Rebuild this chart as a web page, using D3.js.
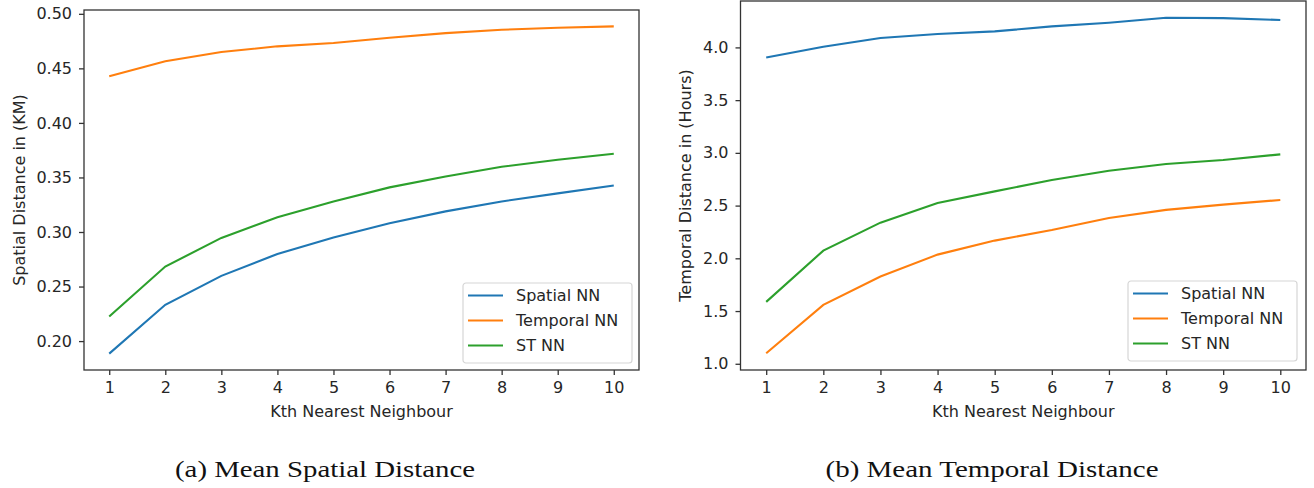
<!DOCTYPE html>
<html>
<head>
<meta charset="utf-8">
<script src="https://cdn.jsdelivr.net/npm/d3@7"></script>
<style>
  body { margin: 0; background: #fff; }
  text { font-family: "DejaVu Sans", sans-serif; fill: #262626; }
</style>
</head>
<body>
<svg width="1314" height="488"></svg>
<script>
// k values on the x axis
const kValues = [1, 2, 3, 4, 5, 6, 7, 8, 9, 10]
const seriesNames = ['Spatial NN', 'Temporal NN', 'ST NN']
const seriesColors = ['#1f77b4', '#ff7f0e', '#2ca02c']

// (a) mean spatial distance, KM
const spatialBySpatialNN = [0.1885, 0.2333, 0.2598, 0.2799, 0.2950, 0.3080, 0.3189, 0.3280, 0.3354, 0.3427]
const spatialByTemporalNN = [0.4427, 0.4565, 0.4650, 0.4702, 0.4732, 0.4780, 0.4823, 0.4854, 0.4872, 0.4885]
const spatialBySTNN = [0.2226, 0.2683, 0.2946, 0.3135, 0.3280, 0.3409, 0.3509, 0.3598, 0.3662, 0.3717]
const spatialTicks = [0.20, 0.25, 0.30, 0.35, 0.40, 0.45, 0.50]

// (b) mean temporal distance, hours
const temporalBySpatialNN = [3.905, 4.007, 4.089, 4.127, 4.152, 4.199, 4.234, 4.281, 4.278, 4.260]
const temporalByTemporalNN = [1.100, 1.558, 1.827, 2.035, 2.168, 2.269, 2.383, 2.459, 2.509, 2.553]
const temporalBySTNN = [1.587, 2.073, 2.338, 2.525, 2.635, 2.743, 2.831, 2.895, 2.933, 2.986]
const temporalTicks = [1.0, 1.5, 2.0, 2.5, 3.0, 3.5, 4.0]

const svg = d3.select('svg')

function drawPanel(p) {
  const g = svg.append('g')
  const allVals = p.series.flat()
  const [lo, hi] = d3.extent(allVals)
  const pad = (hi - lo) * 0.05

  // matplotlib style 5% margins
  const x = d3.scaleLinear().domain([0.55, 10.45]).range([p.left, p.right])
  const y = d3.scaleLinear().domain([lo - pad, hi + pad]).range([p.bottom, p.top])

  const xAxis = g.append('g')
    .attr('transform', `translate(0,${p.bottom})`)
    .call(d3.axisBottom(x).tickValues(kValues).tickSize(5).tickPadding(7).tickFormat(d3.format('d')))
  const yAxis = g.append('g')
    .attr('transform', `translate(${p.left},0)`)
    .call(d3.axisLeft(y).tickValues(p.ticks).tickSize(5).tickPadding(7).tickFormat(d3.format(p.fmt)))

  ;[xAxis, yAxis].forEach(a => {
    a.select('.domain').remove()
    a.selectAll('line').attr('stroke', '#333').attr('stroke-width', 1.3)
    a.selectAll('text').style('font-size', '16px').attr('fill', '#262626')
  })

  const line = d3.line().x((d, i) => x(kValues[i])).y(d => y(d))
  g.selectAll('path.series')
    .data(p.series)
    .enter()
    .append('path')
    .attr('class', 'series')
    .attr('d', line)
    .attr('fill', 'none')
    .attr('stroke', (d, i) => seriesColors[i])
    .attr('stroke-width', 2.1)

  // frame
  g.append('rect')
    .attr('x', p.left).attr('y', p.top)
    .attr('width', p.right - p.left).attr('height', p.bottom - p.top)
    .attr('fill', 'none').attr('stroke', '#333').attr('stroke-width', 1.3)

  g.append('text')
    .attr('x', (p.left + p.right) / 2).attr('y', 417)
    .attr('text-anchor', 'middle')
    .style('font-size', '16px')
    .text('Kth Nearest Neighbour')

  g.append('text')
    .attr('transform', `translate(${p.ylabelX},${(p.top + p.bottom) / 2}) rotate(-90)`)
    .attr('text-anchor', 'middle')
    .attr('dy', '0.35em')
    .style('font-size', '16px')
    .text(p.ylabel)

  // legend
  const lg = g.append('g').attr('transform', `translate(${p.legendX},${p.legendY})`)
  lg.append('rect')
    .attr('width', 169).attr('height', 80).attr('rx', 3)
    .attr('fill', '#fff').attr('fill-opacity', 0.8)
    .attr('stroke', '#d6d6d6').attr('stroke-width', 1.2)
  seriesNames.forEach((name, i) => {
    const yy = 12.5 + i * 25
    lg.append('line')
      .attr('x1', 5).attr('x2', 40).attr('y1', yy).attr('y2', yy)
      .attr('stroke', seriesColors[i]).attr('stroke-width', 2.1)
    lg.append('text')
      .attr('x', 53).attr('y', yy).attr('dy', '0.36em')
      .style('font-size', '16px')
      .text(name)
  })

  svg.append('text')
    .attr('x', p.captionX).attr('y', 477)
    .attr('text-anchor', 'middle')
    .attr('textLength', p.captionW)
    .attr('lengthAdjust', 'spacingAndGlyphs')
    .style('font-family', '"Liberation Serif", serif')
    .style('font-size', '24px')
    .style('fill', '#111')
    .text(p.caption)
}

drawPanel({
  series: [spatialBySpatialNN, spatialByTemporalNN, spatialBySTNN],
  ticks: spatialTicks, fmt: '.2f',
  left: 84, right: 639, top: 10, bottom: 370,
  ylabel: 'Spatial Distance in (KM)', ylabelX: 19,
  legendX: 463, legendY: 283,
  caption: '(a) Mean Spatial Distance', captionX: 325, captionW: 300
})

drawPanel({
  series: [temporalBySpatialNN, temporalByTemporalNN, temporalBySTNN],
  ticks: temporalTicks, fmt: '.1f',
  left: 740.5, right: 1306, top: 1, bottom: 370,
  ylabel: 'Temporal Distance in (Hours)', ylabelX: 685,
  legendX: 1128, legendY: 281,
  caption: '(b) Mean Temporal Distance', captionX: 992, captionW: 333
})
</script>
</body>
</html>
